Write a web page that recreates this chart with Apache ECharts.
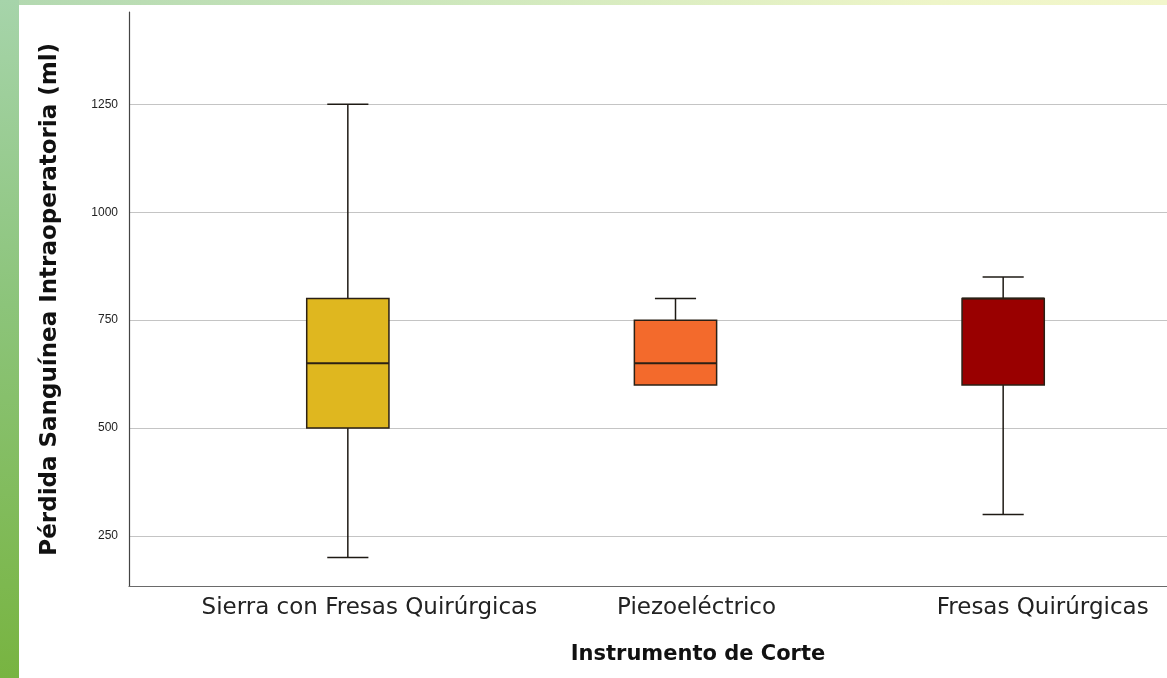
<!DOCTYPE html>
<html>
<head>
<meta charset="utf-8">
<script src="https://cdn.jsdelivr.net/npm/echarts@6/dist/echarts.min.js"></script>
<style>
html,body{margin:0;padding:0;width:1167px;height:678px;overflow:hidden;}
body{background:linear-gradient(90deg,#b2d8b0 0%,#cfe8bd 40%,#eef5c8 80%,#f2f6cb 100%);position:relative;}
#side{position:absolute;left:0;top:0;width:19px;height:678px;background:linear-gradient(180deg,#a6d4aa 0%,#8cc47a 45%,#78b441 100%);}
#chart{position:absolute;left:19px;top:5px;width:1148px;height:673px;background:#fff;}
</style>
</head>
<body>
<div id="side"></div>
<div id="chart"></div>
<script>
const categories = ['Sierra con Fresas Quirúrgicas', 'Piezoeléctrico', 'Fresas Quirúrgicas'];
// [min, Q1, median, Q3, max]
const boxValues = [
  [200, 500, 650, 800, 1250],
  [600, 600, 650, 750, 800],
  [300, 600, 800, 800, 850]
];
const boxColors = ['#dfb71f', '#f36a2c', '#990000'];
const yTicks = [250, 500, 750, 1000, 1250];
const yTitle = 'Pérdida Sanguínea Intraoperatoria (ml)';
const xTitle = 'Instrumento de Corte';
const labelShift = [43, 42, 79];

const yMin = 133, yMax = 1464;
const chart = echarts.init(document.getElementById('chart'));

const seriesData = boxValues.map((v, i) => [i].concat(v));

function renderItem(params, api) {
  const idx = api.value(0);
  const vmin = api.value(1), q1 = api.value(2), med = api.value(3), q3 = api.value(4), vmax = api.value(5);
  const band = api.size([1, 0])[0];
  const bw = band * 0.251;
  const cap = bw / 4;
  const pMin = api.coord([idx, vmin]);
  const pQ1 = api.coord([idx, q1]);
  const pMed = api.coord([idx, med]);
  const pQ3 = api.coord([idx, q3]);
  const pMax = api.coord([idx, vmax]);
  const cx = pMed[0];
  const lineStyle = {stroke: '#1e1a14', lineWidth: 1.5, fill: null};
  const children = [];
  if (pMax[1] < pQ3[1] - 0.5) {
    children.push({type: 'line', shape: {x1: cx, y1: pQ3[1], x2: cx, y2: pMax[1]}, style: lineStyle});
    children.push({type: 'line', shape: {x1: cx - cap, y1: pMax[1], x2: cx + cap, y2: pMax[1]}, style: lineStyle});
  }
  if (pMin[1] > pQ1[1] + 0.5) {
    children.push({type: 'line', shape: {x1: cx, y1: pQ1[1], x2: cx, y2: pMin[1]}, style: lineStyle});
    children.push({type: 'line', shape: {x1: cx - cap, y1: pMin[1], x2: cx + cap, y2: pMin[1]}, style: lineStyle});
  }
  children.push({type: 'rect', shape: {x: cx - bw / 2, y: pQ3[1], width: bw, height: pQ1[1] - pQ3[1]},
    style: {fill: boxColors[idx], stroke: '#2b2015', lineWidth: 1.5}});
  children.push({type: 'line', shape: {x1: cx - bw / 2, y1: pMed[1], x2: cx + bw / 2, y2: pMed[1]}, style: {stroke: '#2b2015', lineWidth: 2}});
  return {type: 'group', children: children};
}

const labelFont = {fontFamily: 'DejaVu Sans', fontSize: 23, color: '#222'};

const option = {
  backgroundColor: '#ffffff',
  animation: false,
  grid: [
    {left: 110, right: 0, top: 7, bottom: 91.5},
    {left: 165, width: 986, top: 7, bottom: 91.5}
  ],
  xAxis: [
    {gridIndex: 0, type: 'value', min: 0, max: 1, axisLabel: {show: false}, axisTick: {show: false}, splitLine: {show: false},
     axisLine: {show: true, lineStyle: {color: '#6a6a6a', width: 1.2}}},
    {gridIndex: 1, type: 'category', data: categories, axisLine: {show: false}, axisTick: {show: false}, splitLine: {show: false},
     axisLabel: {
       margin: 10,
       formatter: function (val, i) { return '{l' + i + '|' + val + '}'; },
       rich: {
         l0: Object.assign({padding: [0, 0, 0, labelShift[0]]}, labelFont),
         l1: Object.assign({padding: [0, 0, 0, labelShift[1]]}, labelFont),
         l2: Object.assign({padding: [0, 0, 0, labelShift[2]]}, labelFont)
       }
     }}
  ],
  yAxis: [
    {gridIndex: 0, type: 'value', min: yMin, max: yMax,
     name: yTitle, nameLocation: 'middle', nameGap: 67,
     nameTextStyle: {fontFamily: 'DejaVu Sans', fontWeight: 'bold', fontSize: 23, color: '#111'},
     axisLine: {show: true, lineStyle: {color: '#444', width: 1.2}},
     axisTick: {show: false, customValues: yTicks},
     axisLabel: {customValues: yTicks, formatter: function (v) { return String(v); },
       fontFamily: 'Liberation Sans', fontSize: 12, color: '#222', margin: 11},
     splitLine: {show: true, lineStyle: {color: '#c4c4c4', width: 1.2}}},
    {gridIndex: 1, type: 'value', min: yMin, max: yMax, show: false, splitLine: {show: false}}
  ],
  graphic: [
    {type: 'text', x: 679, y: 650, style: {text: xTitle, align: 'center', verticalAlign: 'middle',
      fontFamily: 'DejaVu Sans', fontWeight: 'bold', fontSize: 21, fill: '#111'}}
  ],
  series: [{
    type: 'custom',
    xAxisIndex: 1,
    yAxisIndex: 1,
    renderItem: renderItem,
    encode: {x: 0, y: [1, 2, 3, 4, 5]},
    data: seriesData
  }]
};
chart.setOption(option);
</script>
</body>
</html>
